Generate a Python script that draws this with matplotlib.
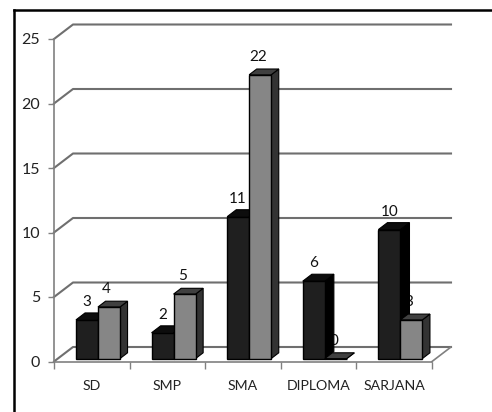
import matplotlib
matplotlib.use('Agg')
import matplotlib.pyplot as plt
from matplotlib.patches import Polygon
from matplotlib.lines import Line2D

plt.rcParams['font.family'] = ['Lato', 'DejaVu Sans']

categories = ['SD', 'SMP', 'SMA', 'DIPLOMA', 'SARJANA']
series_a = [3, 2, 11, 6, 10]
series_b = [4, 5, 22, 0, 3]
y_ticks = [0, 5, 10, 15, 20, 25]

# depth of the fake 3d box, in data units
depth_x = 19 / 75.6
depth_y = 14.5 / 12.9
grid_col = '#6f6f6f'


def box(ax, x0, w, h, depth, front, top, side, z):
    # bar starts 20% into the floor
    sx = x0 + 0.2 * depth_x
    sy = 0.2 * depth_y
    dx = depth * depth_x
    dy = depth * depth_y
    ax.add_patch(Polygon([(sx + w, sy), (sx + w + dx, sy + dy), (sx + w + dx, sy + h + dy), (sx + w, sy + h)],
                         fc=side, ec='black', lw=0.8, zorder=z, clip_on=False))
    ax.add_patch(Polygon([(sx, sy + h), (sx + dx, sy + h + dy), (sx + w + dx, sy + h + dy), (sx + w, sy + h)],
                         fc=top, ec='black', lw=0.8, zorder=z, clip_on=False))
    ax.add_patch(Polygon([(sx, sy), (sx + w, sy), (sx + w, sy + h), (sx, sy + h)],
                         fc=front, ec='black', lw=1.0, zorder=z, clip_on=False))


fig = plt.figure(figsize=(4.92, 4.12), dpi=100)
ax = fig.add_axes([54 / 492, (412 - 361.5) / 412, 378 / 492, 322.5 / 412])
ax.set_xlim(0, 5)
ax.set_ylim(0, 25)

# walls and floor
for v in y_ticks:
    ax.plot([0, depth_x, 5 + depth_x], [v, v + depth_y, v + depth_y], color=grid_col, lw=1.5, zorder=1, clip_on=False)
ax.plot([5, 5 + depth_x], [0, depth_y], color='#808080', lw=1.2, zorder=1, clip_on=False)

bar_w = 22 / 75.6
for i in range(len(categories)):
    x0 = i + 0.24
    # labels sit under the bars, the dark bar hides part of them
    ax.text(x0 + 0.2 * depth_x + bar_w / 2, series_a[i] + 1.6, str(series_a[i]), ha='center', va='center', fontsize=11, color='#111111', zorder=2)
    ax.text(x0 + bar_w + 0.2 * depth_x + bar_w / 2 - 0.03, series_b[i] + 1.6, str(series_b[i]), ha='center', va='center', fontsize=11, color='#111111', zorder=2)
for i in range(len(categories)):
    x0 = i + 0.24
    # dark bar first, the grey one stands in front of its side
    box(ax, x0, bar_w, series_a[i], 0.48, '#1f1f1f', '#0d0d0d', '#000000', 3 + 2 * i)
    box(ax, x0 + bar_w, bar_w, series_b[i], 0.4, '#868686', '#404040', '#333333', 4 + 2 * i)

for s in ['top', 'right']:
    ax.spines[s].set_visible(False)
for s in ['left', 'bottom']:
    ax.spines[s].set_color('#808080')
    ax.spines[s].set_linewidth(1.2)
    ax.spines[s].set_zorder(1)

ax.set_yticks(y_ticks)
ax.set_xticks(range(6))
ax.set_xticklabels([])
ax.set_xticks([i + 0.5 for i in range(5)], minor=True)
ax.set_xticklabels(categories, minor=True)
ax.tick_params(axis='x', which='minor', length=0, pad=13.5, labelsize=10.2, labelcolor='#222222')
ax.tick_params(axis='x', which='major', length=5, width=1, color='#808080')
ax.tick_params(axis='y', length=4, width=1, color='#808080', pad=6, labelsize=11.5, labelcolor='#222222')

# black frame, only top and left are visible
fig.add_artist(Line2D([13.5 / 492, 13.5 / 492], [0, 1 - 10 / 412], color='black', lw=1.8))
fig.add_artist(Line2D([13.5 / 492, 1], [1 - 10 / 412, 1 - 10 / 412], color='black', lw=1.8))

fig.savefig('out.png', dpi=100)
